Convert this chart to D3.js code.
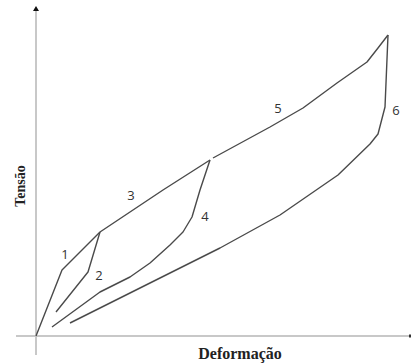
<!DOCTYPE html>
<html lang="en">
<head>
<meta charset="UTF-8">
<title>Tensão x Deformação</title>
<script src="https://d3js.org/d3.v7.min.js"></script>
<style>
    body { margin: 0; background: #fff; }
    .axis-line { stroke: #c8c8c8; stroke-width: 2; }
    .curve { fill: none; stroke: #4a4a4a; stroke-width: 1.4; stroke-linejoin: round; }
    .num { font-family: "Open Sans", sans-serif; font-size: 13px; fill: #333; text-anchor: middle; dominant-baseline: central; }
    .title { font-family: "Liberation Serif", serif; font-weight: bold; fill: #222; text-anchor: middle; }
</style>
</head>
<body>
<svg id="chart" width="411" height="363"></svg>
<script>
    // curves (strain, stress in arbitrary units)
    const curve1 = [[0, 0], [26, 66], [64, 104]];
    const curve3 = [[64, 104], [127, 146], [174, 176]];
    const curve5 = [[177, 178], [234, 209], [267, 228], [301, 253], [331, 274], [342, 288], [352, 301]];
    const curve2 = [[64, 104], [52, 64], [20, 24]];
    const curve4 = [[174, 176], [164, 146], [156, 119], [147, 104], [134, 91], [114, 73], [94, 59], [64, 44], [16, 9]];
    const curve6 = [[34, 13], [124, 58], [184, 88], [244, 121], [302, 161], [334, 192], [342, 202], [349, 229], [352, 301]];

    const labelText = ['1', '2', '3', '4', '5', '6'];
    const labelPos = [[29, 82], [63, 61], [95, 141], [169, 120], [242, 228], [360, 226]];

    const svg = d3.select('#chart');
    const x = d3.scaleLinear().domain([0, 375]).range([36, 411]);
    const y = d3.scaleLinear().domain([0, 330]).range([336, 6]);

    // axes
    svg.append('line').attr('class', 'axis-line')
        .attr('x1', x(-20)).attr('x2', x(374)).attr('y1', y(0)).attr('y2', y(0));
    svg.append('line').attr('class', 'axis-line')
        .attr('x1', x(0)).attr('x2', x(0)).attr('y1', y(-19)).attr('y2', y(326));
    svg.append('path')
        .attr('d', `M${x(0) - 3},${y(325)} L${x(0)},${y(330)} L${x(0) + 3},${y(325)} Z`)
        .attr('fill', '#111');
    svg.append('line')
        .attr('x1', x(373)).attr('x2', x(375)).attr('y1', y(0)).attr('y2', y(0))
        .attr('stroke', '#333').attr('stroke-width', 3);

    const line = d3.line().x(d => x(d[0])).y(d => y(d[1]));
    [curve1, curve3, curve5, curve2, curve4, curve6].forEach(c => {
        svg.append('path').attr('class', 'curve').attr('d', line(c));
    });

    svg.selectAll('text.num')
        .data(labelText)
        .enter().append('text')
        .attr('class', 'num')
        .attr('x', (d, i) => x(labelPos[i][0]))
        .attr('y', (d, i) => y(labelPos[i][1]))
        .text(d => d);

    svg.append('text').attr('class', 'title')
        .attr('x', 240).attr('y', 359)
        .style('font-size', '16px')
        .text('Deformação');
    svg.append('text').attr('class', 'title')
        .attr('transform', 'translate(25,186) rotate(-90)')
        .style('font-size', '14px')
        .text('Tensão');
</script>
</body>
</html>
